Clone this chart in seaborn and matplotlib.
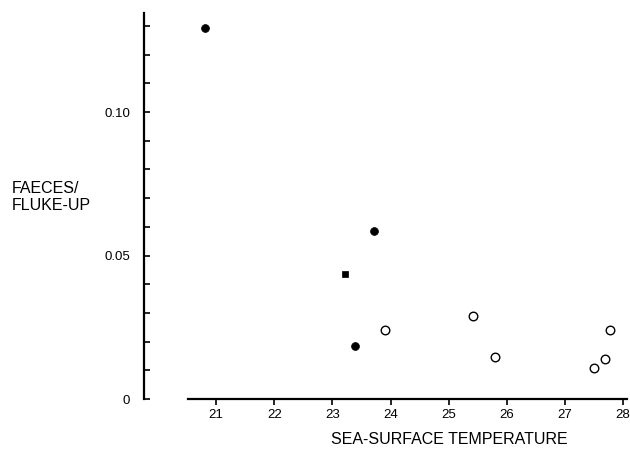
import seaborn as sns
import matplotlib.pyplot as plt
import numpy as np

# points
filled_temp = [20.81, 23.71, 23.38]
filled_ratio = [0.1293, 0.0585, 0.0185]
square_temp = [23.21]
square_ratio = [0.0436]
open_temp = [23.91, 25.41, 25.80, 27.49, 27.69, 27.78]
open_ratio = [0.0240, 0.0288, 0.0147, 0.0109, 0.0138, 0.0240]

xticks = [21, 22, 23, 24, 25, 26, 27, 28]
yticks = [0, 0.01, 0.02, 0.03, 0.04, 0.05, 0.06, 0.07, 0.08, 0.09, 0.10, 0.11, 0.12, 0.13]
ylabels = {0: '0', 0.05: '0.05', 0.10: '0.10'}

sns.set_style('white')
plt.rcParams['font.family'] = ['Liberation Sans', 'DejaVu Sans']

fig = plt.figure(figsize=(6.3, 4.49), dpi=100)
ax = fig.add_axes([144/630, 1-399/449, (629-144)/630, (399-13)/449])

sns.scatterplot(x=filled_temp, y=filled_ratio, ax=ax, marker='o', s=32,
                color='black', edgecolor='black', linewidth=0.5)
sns.scatterplot(x=square_temp, y=square_ratio, ax=ax, marker='s', s=24,
                color='black', edgecolor='black', linewidth=0.5)
sns.scatterplot(x=open_temp, y=open_ratio, ax=ax, marker='o', s=38,
                facecolor='white', edgecolor='black', linewidth=1.0)

ax.set_xlim(19.76, 28.1)
ax.set_ylim(0, 0.1345)
ax.spines['top'].set_visible(False)
ax.spines['right'].set_visible(False)
ax.spines['bottom'].set_bounds(20.52, 28.07)
ax.spines['left'].set_bounds(0, 0.1345)
for s in ['left', 'bottom']:
    ax.spines[s].set_linewidth(1.6)
    ax.spines[s].set_color('black')

ax.set_xticks(xticks)
ax.set_xticklabels([str(t) for t in xticks], fontsize=9.5, color='black')
ax.set_yticks(yticks)
ax.set_yticklabels([ylabels.get(round(t, 2), '') for t in yticks], fontsize=9.5, color='black')
ax.tick_params(axis='x', direction='out', length=4, width=1.2, pad=3, color='black')
ax.tick_params(axis='y', direction='in', length=4, width=1.2, pad=10, color='black')
ax.tick_params(left=True, bottom=True)

ax.set_xlabel('')
ax.set_ylabel('')
fig.text(449/630, 1-439/449, 'SEA-SURFACE TEMPERATURE', fontsize=11.5, ha='center',
         va='center', color='black')
fig.text(12/630, 1-197/449, 'FAECES/\nFLUKE-UP', fontsize=11.5, ha='left', va='center',
         linespacing=1.2, color='black')

fig.savefig('out.png', dpi=100)
